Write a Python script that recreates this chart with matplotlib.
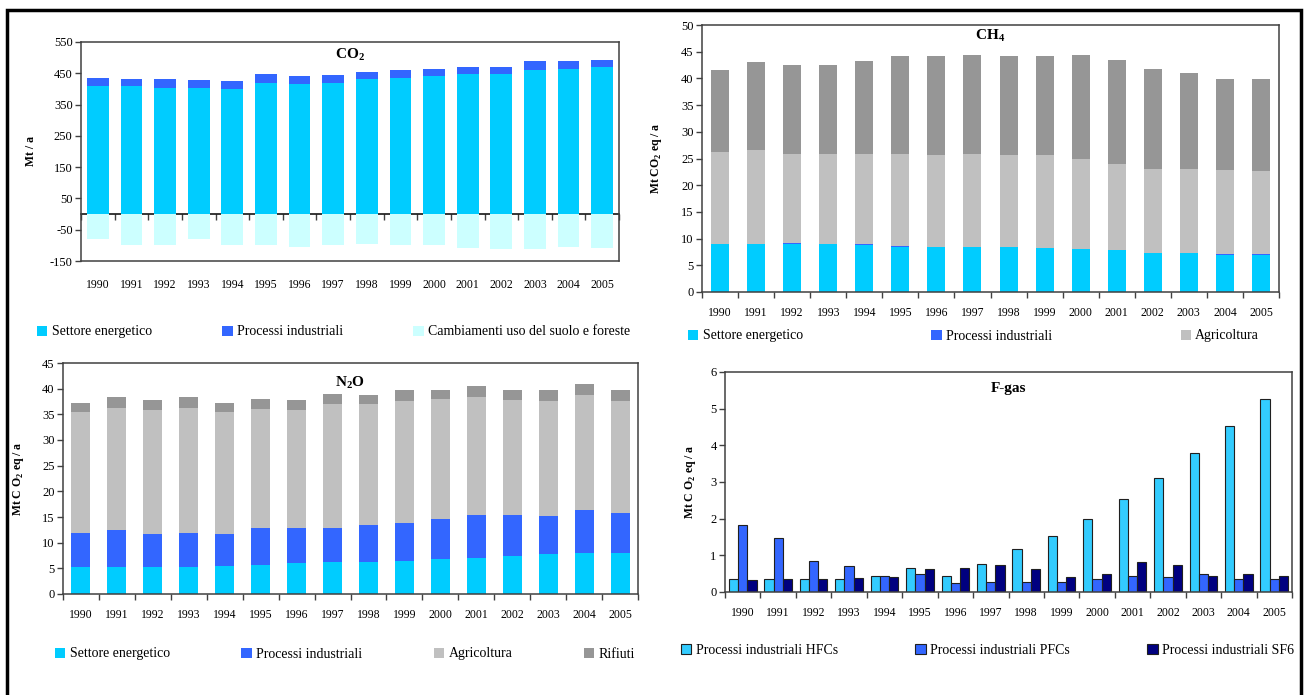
import matplotlib
matplotlib.use("Agg")
import matplotlib.pyplot as plt
import matplotlib.patches as mpatches
import numpy as np

plt.rcParams['font.family'] = ['Liberation Serif', 'DejaVu Serif']
plt.rcParams['mathtext.fontset'] = 'custom'
plt.rcParams['mathtext.rm'] = 'Liberation Serif'
plt.rcParams['mathtext.bf'] = 'Liberation Serif:bold'
plt.rcParams['axes.unicode_minus'] = False

years = [str(y) for y in range(1990, 2006)]

# CO2 (Mt / a)
co2_energia = [408, 408, 404, 404, 400, 420, 416, 420, 432, 436, 441, 449, 449, 461, 465, 470]
co2_industria = [28, 24, 28, 24, 25, 29, 25, 25, 22, 25, 24, 21, 21, 29, 25, 24]
co2_lulucf = [-80, -100, -100, -80, -100, -100, -105, -100, -96, -100, -100, -109, -113, -113, -105, -109]

# CH4 (Mt CO2 eq / a)
ch4_energia = [9.0, 9.0, 8.9, 9.0, 8.8, 8.5, 8.5, 8.5, 8.5, 8.2, 8.0, 7.8, 7.3, 7.3, 7.0, 7.0]
ch4_industria = [0.0, 0.0, 0.2, 0.0, 0.2, 0.2, 0.0, 0.0, 0.0, 0.0, 0.0, 0.0, 0.0, 0.0, 0.2, 0.2]
ch4_agricoltura = [17.2, 17.5, 16.8, 16.9, 16.9, 17.2, 17.2, 17.4, 17.2, 17.5, 17.0, 16.2, 15.7, 15.7, 15.6, 15.4]
ch4_rifiuti = [15.3, 16.5, 16.6, 16.6, 17.3, 18.3, 18.5, 18.5, 18.5, 18.5, 19.4, 19.5, 18.8, 18.1, 17.0, 17.2]

# N2O (Mt CO2 eq / a)
n2o_energia = [5.2, 5.2, 5.2, 5.2, 5.5, 5.7, 6.0, 6.25, 6.25, 6.5, 6.8, 7.0, 7.5, 7.7, 8.0, 8.0]
n2o_industria = [6.7, 7.2, 6.5, 6.7, 6.2, 7.2, 6.9, 6.65, 7.15, 7.4, 7.8, 8.4, 7.9, 7.5, 8.4, 7.7]
n2o_agricoltura = [23.5, 23.9, 24.1, 24.4, 23.8, 23.2, 22.9, 24.1, 23.6, 23.7, 23.4, 22.9, 22.4, 22.4, 22.4, 21.9]
n2o_rifiuti = [1.9, 2.0, 2.0, 2.0, 1.8, 1.9, 2.0, 2.0, 1.8, 2.2, 1.8, 2.2, 2.0, 2.2, 2.2, 2.2]

# F-gas (Mt CO2 eq / a)
hfc = [0.35, 0.35, 0.35, 0.35, 0.45, 0.66, 0.45, 0.77, 1.18, 1.53, 1.99, 2.55, 3.10, 3.80, 4.54, 5.27]
pfc = [1.82, 1.47, 0.84, 0.70, 0.45, 0.49, 0.24, 0.27, 0.27, 0.27, 0.35, 0.45, 0.41, 0.49, 0.35, 0.35]
sf6 = [0.32, 0.35, 0.35, 0.38, 0.42, 0.62, 0.66, 0.73, 0.62, 0.42, 0.49, 0.81, 0.73, 0.45, 0.49, 0.45]

CYAN = '#00CCFF'
BLUE = '#3366FF'
LIGHT = '#CCFFFF'
GREY = '#C0C0C0'
DARK = '#969696'
NAVY = '#000080'
FRAME = '#404040'

W, H = 1308, 695
fig = plt.figure(figsize=(W / 100, H / 100), dpi=100)


def px_axes(left, top, right, bottom):
    return fig.add_axes([left / W, 1 - bottom / H, (right - left) / W, (bottom - top) / H])


def style_axes(ax, yticks, label, label_x, title, title_y, xpad=7, boundary_ticks=True):
    x = np.arange(len(years))
    ax.set_xlim(-0.5, len(years) - 0.5)
    ax.set_ylim(yticks[0], yticks[-1])
    ax.set_yticks(yticks)
    ax.set_xticks(x)
    ax.set_xticklabels(years)
    if boundary_ticks:
        ax.set_xticks(np.arange(len(years) + 1) - 0.5, minor=True)
        ax.tick_params(axis='x', which='minor', length=4, width=1, color=FRAME, direction='out')
    ax.tick_params(axis='x', which='major', length=0, pad=xpad, labelsize=8.5)
    ax.tick_params(axis='y', length=4, width=1, color=FRAME, pad=2, labelsize=9)
    for s in ax.spines.values():
        s.set_color(FRAME)
        s.set_linewidth(1.1)
    ax.set_ylabel(label, fontsize=8.5, fontweight='bold')
    ax.yaxis.set_label_coords(label_x, 0.5)
    ax.text(0.5, title_y, title, transform=ax.transAxes, ha='center', va='center',
            fontsize=11, fontweight='bold')


def add_legend(ax, handles, labels, x0, x1, yc):
    fig.legend(handles, labels, loc='center', mode='expand', ncol=len(labels),
               bbox_to_anchor=(x0 / W, 1 - yc / H - 0.02, (x1 - x0) / W, 0.04),
               frameon=False, fontsize=10, handlelength=0.75, handleheight=0.75,
               handletextpad=0.3, borderpad=0, borderaxespad=0, columnspacing=1.0)


x = np.arange(len(years))

# --- CO2 ---
ax1 = px_axes(81, 42, 619, 261)
b1 = ax1.bar(x, co2_energia, 0.65, color=CYAN)
b2 = ax1.bar(x, co2_industria, 0.65, bottom=co2_energia, color=BLUE)
b3 = ax1.bar(x, co2_lulucf, 0.65, color=LIGHT)
style_axes(ax1, [-150, -50, 50, 150, 250, 350, 450, 550], 'Mt / a', -0.082,
           r'CO$_\mathbf{2}$', 0.94, xpad=13, boundary_ticks=False)
# zero line with category ticks
zero = ax1.secondary_xaxis(0, transform=ax1.transData)
zero.spines['bottom'].set_color('black')
zero.spines['bottom'].set_linewidth(1.1)
zero.set_xticks(np.arange(len(years) + 1) - 0.5)
zero.set_xticklabels([])
zero.tick_params(length=4, width=1, color=FRAME, direction='out')
add_legend(ax1, [b1, b2, b3],
           ['Settore energetico', 'Processi industriali', 'Cambiamenti uso del suolo e foreste'],
           37, 630, 332)

# --- CH4 ---
ax2 = px_axes(702, 25, 1279, 292)
bottom = np.zeros(len(years))
c_handles = []
for vals, col in [(ch4_energia, CYAN), (ch4_industria, BLUE), (ch4_agricoltura, GREY), (ch4_rifiuti, DARK)]:
    c_handles.append(ax2.bar(x, vals, 0.5, bottom=bottom, color=col))
    bottom = bottom + np.array(vals)
style_axes(ax2, list(range(0, 55, 5)), r'Mt CO$_\mathbf{2}$ eq / a', -0.065, r'CH$_\mathbf{4}$', 0.96, xpad=11)
add_legend(ax2, c_handles[:3], ['Settore energetico', 'Processi industriali', 'Agricoltura'],
           688, 1259, 336)

# --- N2O ---
ax3 = px_axes(63, 363, 638, 594)
bottom = np.zeros(len(years))
n_handles = []
for vals, col in [(n2o_energia, CYAN), (n2o_industria, BLUE), (n2o_agricoltura, GREY), (n2o_rifiuti, DARK)]:
    n_handles.append(ax3.bar(x, vals, 0.53, bottom=bottom, color=col))
    bottom = bottom + np.array(vals)
style_axes(ax3, list(range(0, 50, 5)), r'Mt C O$_\mathbf{2}$ eq / a', -0.064, r'N$_\mathbf{2}$O', 0.915, xpad=11)
add_legend(ax3, n_handles, ['Settore energetico', 'Processi industriali', 'Agricoltura', 'Rifiuti'],
           55, 635, 654)

# --- F-gas ---
ax4 = px_axes(725, 372, 1292, 592)
bw = 0.26
f1 = ax4.bar(x - bw, hfc, bw, color='#33CCFF', edgecolor='#202020', linewidth=0.8)
f2 = ax4.bar(x, pfc, bw, color=BLUE, edgecolor='#202020', linewidth=0.8)
f3 = ax4.bar(x + bw, sf6, bw, color=NAVY, edgecolor='#202020', linewidth=0.8)
style_axes(ax4, list(range(0, 7)), r'Mt C O$_\mathbf{2}$ eq / a', -0.047, 'F-gas', 0.925, xpad=11)
add_legend(ax4, [f1, f2, f3],
           ['Processi industriali HFCs', 'Processi industriali PFCs', 'Processi industriali SF6'],
           681, 1294, 650)

# outer frame (open at the bottom)
fig.add_artist(mpatches.Rectangle((7 / W, -0.05), (1301 - 7) / W, 1.05 - 10 / H,
                                  transform=fig.transFigure, fill=False,
                                  edgecolor='black', linewidth=2.5))

fig.savefig('out.png', dpi=100)
